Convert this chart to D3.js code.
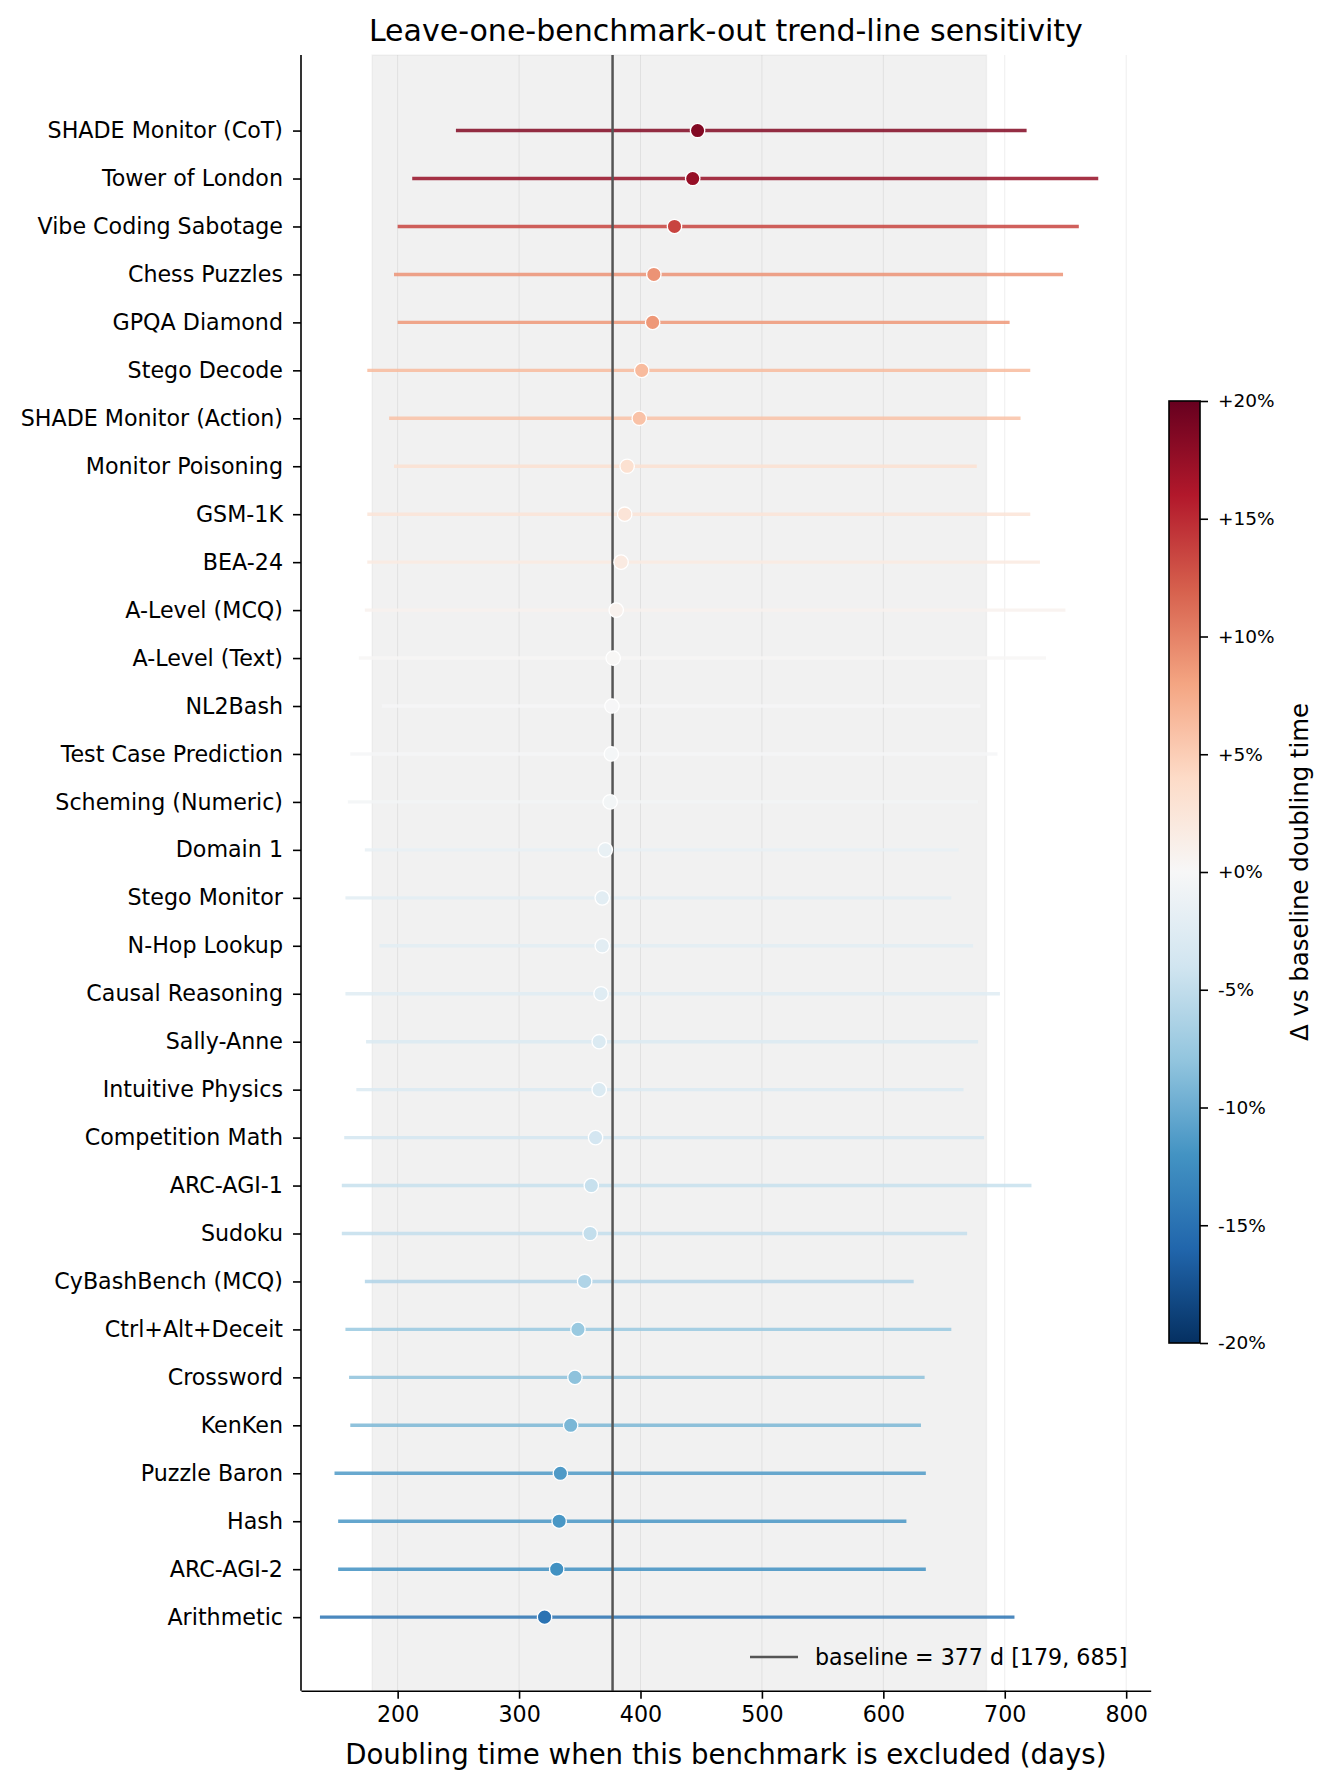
<!DOCTYPE html>
<html>
<head>
<meta charset="utf-8">
<script src="https://cdn.jsdelivr.net/npm/d3@7"></script>
<style>
  body { margin: 0; background: #fff; }
  svg { display: block; font-family: "DejaVu Sans", sans-serif; }
</style>
</head>
<body>
<div id="chart"></div>
<script>
// benchmarks, top to bottom
var benchmarks = ["SHADE Monitor (CoT)", "Tower of London", "Vibe Coding Sabotage", "Chess Puzzles",
    "GPQA Diamond", "Stego Decode", "SHADE Monitor (Action)", "Monitor Poisoning", "GSM-1K", "BEA-24",
    "A-Level (MCQ)", "A-Level (Text)", "NL2Bash", "Test Case Prediction", "Scheming (Numeric)", "Domain 1",
    "Stego Monitor", "N-Hop Lookup", "Causal Reasoning", "Sally-Anne", "Intuitive Physics",
    "Competition Math", "ARC-AGI-1", "Sudoku", "CyBashBench (MCQ)", "Ctrl+Alt+Deceit", "Crossword",
    "KenKen", "Puzzle Baron", "Hash", "ARC-AGI-2", "Arithmetic"];

// doubling time (days) when benchmark is left out
var doubling = [447, 443, 428, 411, 410, 401, 399, 389, 387, 384, 380, 377.5, 376.5, 376, 375, 371,
    368.5, 368.5, 367.5, 366, 366, 363, 359.5, 358.5, 354, 348.5, 346, 342.5, 334, 333, 331, 321];
var ciLow = [248, 212, 200, 197, 200, 175, 193, 197, 175, 175, 173, 168, 187, 161, 159, 173,
    157, 185, 157, 174, 166, 156, 154, 154, 173, 157, 160, 161, 148, 151, 151, 136];
var ciHigh = [718, 777, 761, 748, 704, 721, 713, 677, 721, 729, 750, 734, 680, 694, 678, 662,
    656, 674, 696, 678, 666, 683, 722, 669, 625, 656, 634, 631, 635, 619, 635, 708];

var baseline = 377, baselineLow = 179, baselineHigh = 685;
var xTicks = [200, 300, 400, 500, 600, 700, 800];
var cbTicks = [-0.2, -0.15, -0.1, -0.05, 0, 0.05, 0.1, 0.15, 0.2];

// matplotlib RdBu_r anchors
var rdbu = ["#053061", "#2166ac", "#4393c3", "#92c5de", "#d1e5f0", "#f7f7f7",
    "#fddbc7", "#f4a582", "#d6604d", "#b2182b", "#67001f"];

function init() {
    var W = 1331, H = 1787;
    var left = 301, right = 1150.7, top = 55, bottom = 1690.7;

    var svg = d3.select("#chart").append("svg")
        .attr("width", W)
        .attr("height", H);

    var x = d3.scaleLinear().domain([120.4, 820.2]).range([left, right]);
    var y = d3.scalePoint().domain(benchmarks).range([top + 1, bottom + 1]).padding(1.555);

    var color = d3.scaleLinear()
        .domain(d3.range(11).map(i => -0.2 + i * 0.04))
        .range(rdbu)
        .clamp(true);

    var data = benchmarks.map((name, i) => ({
        name: name, value: doubling[i], lo: ciLow[i], hi: ciHigh[i],
        delta: (doubling[i] - baseline) / baseline
    }));

    // baseline CI band
    svg.append("rect")
        .attr("x", x(baselineLow))
        .attr("y", top)
        .attr("width", x(baselineHigh) - x(baselineLow))
        .attr("height", bottom - top)
        .attr("fill", "#000").attr("fill-opacity", 0.055)
        .attr("stroke", "#000").attr("stroke-opacity", 0.04).attr("stroke-width", 1.5);

    // vertical grid
    svg.append("g").selectAll("line")
        .data(xTicks)
        .join("line")
        .attr("x1", d => x(d)).attr("x2", d => x(d))
        .attr("y1", top).attr("y2", bottom)
        .attr("stroke", "#000").attr("stroke-opacity", 0.07).attr("stroke-width", 1);

    // interval lines
    svg.append("g").selectAll("line")
        .data(data)
        .join("line")
        .attr("x1", d => x(d.lo)).attr("x2", d => x(d.hi))
        .attr("y1", d => y(d.name)).attr("y2", d => y(d.name))
        .attr("stroke", d => color(d.delta))
        .attr("stroke-opacity", 0.85)
        .attr("stroke-width", 3.4);

    // baseline line
    svg.append("line")
        .attr("x1", x(baseline)).attr("x2", x(baseline))
        .attr("y1", top).attr("y2", bottom)
        .attr("stroke", "#555").attr("stroke-width", 2.5);

    // points
    svg.append("g").selectAll("circle")
        .data(data)
        .join("circle")
        .attr("cx", d => x(d.value))
        .attr("cy", d => y(d.name))
        .attr("r", 7.2)
        .attr("fill", d => color(d.delta))
        .attr("stroke", "#fff")
        .attr("stroke-width", 1.3);

    // x axis
    var xAxis = svg.append("g")
        .attr("transform", "translate(0," + bottom + ")")
        .call(d3.axisBottom(x).tickValues(xTicks).tickSize(8).tickPadding(8).tickSizeOuter(0));
    xAxis.select(".domain").attr("stroke", "#000").attr("stroke-width", 1.6);
    xAxis.selectAll(".tick line").attr("stroke-width", 1.6);
    xAxis.selectAll(".tick text").style("font-size", "22.2px").attr("fill", "#000")
        .style("font-family", "DejaVu Sans");

    // y axis
    var yAxis = svg.append("g")
        .attr("transform", "translate(" + left + ",0)")
        .call(d3.axisLeft(y).tickSize(8).tickPadding(10).tickSizeOuter(0));
    yAxis.select(".domain").attr("stroke", "#000").attr("stroke-width", 1.6)
        .attr("d", "M0," + top + "V" + bottom);
    yAxis.selectAll(".tick line").attr("stroke-width", 1.6);
    yAxis.selectAll(".tick text").style("font-size", "22.2px").attr("fill", "#000")
        .style("font-family", "DejaVu Sans");

    // title and axis label
    svg.append("text")
        .attr("x", (left + right) / 2).attr("y", 41)
        .attr("text-anchor", "middle")
        .style("font-size", "30px")
        .text("Leave-one-benchmark-out trend-line sensitivity");

    svg.append("text")
        .attr("x", (left + right) / 2).attr("y", 1764)
        .attr("text-anchor", "middle")
        .style("font-size", "27.6px")
        .text("Doubling time when this benchmark is excluded (days)");

    // legend
    svg.append("line")
        .attr("x1", 750).attr("x2", 798)
        .attr("y1", 1657).attr("y2", 1657)
        .attr("stroke", "#555").attr("stroke-width", 2.5);
    svg.append("text")
        .attr("x", 815).attr("y", 1665)
        .style("font-size", "22.2px")
        .text("baseline = " + baseline + " d [" + baselineLow + ", " + baselineHigh + "]");

    // colorbar
    var cbX = 1169, cbW = 31, cbTop = 401, cbBottom = 1343;
    var cb = d3.scaleLinear().domain([-0.2, 0.2]).range([cbBottom, cbTop]);

    var grad = svg.append("defs").append("linearGradient")
        .attr("id", "cbgrad")
        .attr("x1", 0).attr("y1", 1).attr("x2", 0).attr("y2", 0);
    grad.selectAll("stop")
        .data(d3.range(0, 1.0001, 0.05))
        .join("stop")
        .attr("offset", d => d)
        .attr("stop-color", d => color(-0.2 + d * 0.4));

    svg.append("rect")
        .attr("x", cbX).attr("y", cbTop)
        .attr("width", cbW).attr("height", cbBottom - cbTop)
        .attr("fill", "url(#cbgrad)")
        .attr("stroke", "#000").attr("stroke-width", 1.6);

    var cbAxis = svg.append("g")
        .attr("transform", "translate(" + (cbX + cbW) + ",0)")
        .call(d3.axisRight(cb).tickValues(cbTicks).tickSize(8).tickPadding(10)
            .tickFormat(v => (v >= -1e-9 ? "+" : "-") + Math.round(Math.abs(v) * 100) + "%"));
    cbAxis.select(".domain").remove();
    cbAxis.selectAll(".tick line").attr("stroke-width", 1.6);
    cbAxis.selectAll(".tick text").style("font-size", "18.5px").attr("fill", "#000")
        .style("font-family", "DejaVu Sans");

    svg.append("text")
        .attr("transform", "translate(1308," + ((cbTop + cbBottom) / 2) + ") rotate(-90)")
        .attr("text-anchor", "middle")
        .style("font-size", "24.4px")
        .text("\u0394 vs baseline doubling time");
}

init();
</script>
</body>
</html>
